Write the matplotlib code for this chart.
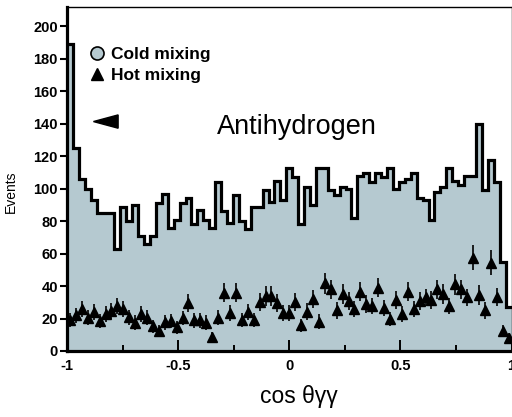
#!/usr/bin/env python3
"""Opening-angle distribution of antihydrogen annihilation gammas."""

import numpy as np
import matplotlib
matplotlib.use("Agg")
import matplotlib.pyplot as plt
from matplotlib.lines import Line2D
from matplotlib.patches import Polygon

plt.rcParams["font.family"] = ["Liberation Sans", "DejaVu Sans"]
plt.rcParams["axes.unicode_minus"] = False

# cold mixing histogram, 75 bins over cos(theta) in [-1, 1]
cold_counts = [
    189, 125, 106, 100, 93, 85, 85, 85, 63, 89, 80, 90, 71, 66, 71, 91, 97, 76, 81,
    91, 94, 78, 87, 81, 76, 104, 86, 79, 96, 80, 75, 89, 89, 99, 92, 105, 93, 113, 107,
    78, 101, 90, 113, 113, 99, 96, 101, 100, 82, 108, 110, 104, 110, 107, 113, 100, 104,
    106, 110, 94, 93, 81, 98, 101, 113, 105, 102, 108, 108, 140, 99, 118, 104, 55, 27,
]

# hot mixing points, same binning
hot_counts = [
    19, 22, 26, 20.5, 24, 18.5, 22.7, 24.5, 27.5, 26, 20.7, 17.5, 22.8, 20.6, 15.4,
    12.3, 17.6, 18.5, 14.5, 20.4, 29.8, 18.8, 18.8, 17.5, 8.6, 20.6, 36, 23.6, 36, 19,
    24, 19, 30, 34, 34, 29.8, 23.6, 23.6, 30.4, 16, 24.3, 32, 18, 41.8, 38,
    25, 35, 30.9, 25.7, 36.6, 28.8, 27.5, 39, 26.7, 19.6, 31.4, 22.8, 36.6, 25.7, 30.9,
    33, 31.5, 38, 35, 27.8, 41, 38, 33, 57.6, 34.6, 25, 54.5, 33.3, 12.3, 7.8,
]
hot_errors = [
    4.5, 4.5, 5, 4.5, 5, 4.5, 5, 5, 5, 5, 4.5, 4.5, 5, 4.5, 4,
    3.5, 4.5, 4.5, 4, 4.5, 5.5, 4.5, 4.5, 4.5, 3, 4.5, 6, 5, 6, 4.5,
    5, 4.5, 5.5, 6, 6, 5.5, 5, 5, 5.5, 4, 5, 5.5, 4.5, 6.5, 6,
    5, 6, 5.5, 5, 6, 5.5, 5, 6, 5, 4.5, 5.5, 5, 6, 5, 5.5,
    5.5, 5.5, 6, 6, 5, 6.5, 6, 5.5, 7.5, 6, 5, 7.5, 5.5, 3.5, 3,
]

x_ticks = [-1, -0.5, 0, 0.5, 1]
x_tick_labels = ["-1", "-0.5", "0", "0.5", "1"]
y_ticks = list(range(0, 201, 20))

FILL = "#b5c9d0"

edges = np.linspace(-1, 1, len(cold_counts) + 1)
centers = 0.5 * (edges[:-1] + edges[1:])

fig = plt.figure(figsize=(5.12, 4.17), dpi=100)
ax = fig.add_axes([67 / 512, 1 - 351 / 417, 444.5 / 512, 344 / 417])

ax.stairs(cold_counts, edges, fill=True, color=FILL, zorder=1)
ax.stairs(cold_counts, edges, color="black", lw=2.3, baseline=None, zorder=2)
ax.errorbar(centers, hot_counts, yerr=hot_errors, fmt="^", color="black",
            ms=7.2, elinewidth=1.2, capsize=0, zorder=3)

ax.set_xlim(-1, 1)
ax.set_ylim(0, 212)

for side in ("left", "bottom"):
    ax.spines[side].set_linewidth(2.3)
for side in ("top", "right"):
    ax.spines[side].set_linewidth(1.0)

ax.set_xticks(x_ticks)
ax.set_xticklabels(x_tick_labels, fontweight="bold", fontsize=10.5)
ax.set_xticks([-0.75, -0.25, 0.25, 0.75], minor=True)
ax.tick_params(axis="x", which="major", direction="in", length=8, width=1.4, pad=6)
ax.tick_params(axis="x", which="minor", direction="in", length=4.5, width=1.4)
ax.set_yticks(y_ticks)
ax.set_yticklabels([str(v) for v in y_ticks], fontweight="bold", fontsize=10.5)
ax.tick_params(axis="y", direction="out", length=5, width=1.5, pad=1.5)

ax.set_ylabel("Events", fontsize=10)
ax.yaxis.set_label_coords(-0.111, 0.463)
ax.set_xlabel("cos θγγ", fontsize=16.5)
ax.xaxis.label.set_va("baseline")
ax.xaxis.set_label_coords(0.522, -0.151)

ax.text(-0.327, 133.8, "Antihydrogen", fontsize=19.5, ha="left", va="baseline")

# arrow marker pointing at the back-to-back peak
ax.add_patch(Polygon([(-0.881, 141.4), (-0.770, 145.5), (-0.770, 137.3)],
                     closed=True, color="black", zorder=4))

handles = [
    Line2D([], [], ls="none", marker="o", ms=9.4, mfc=FILL, mec="black", mew=1.2),
    Line2D([], [], ls="none", marker="^", ms=8.5, color="black"),
]
ax.legend(handles, ["Cold mixing", "Hot mixing"], loc="upper left",
          bbox_to_anchor=(0.0354, 0.904), borderaxespad=0, frameon=False,
          handlelength=0.8, handletextpad=0.4, labelspacing=0.35,
          prop={"weight": "bold", "size": 12.5})

fig.savefig("out.png", dpi=100)
